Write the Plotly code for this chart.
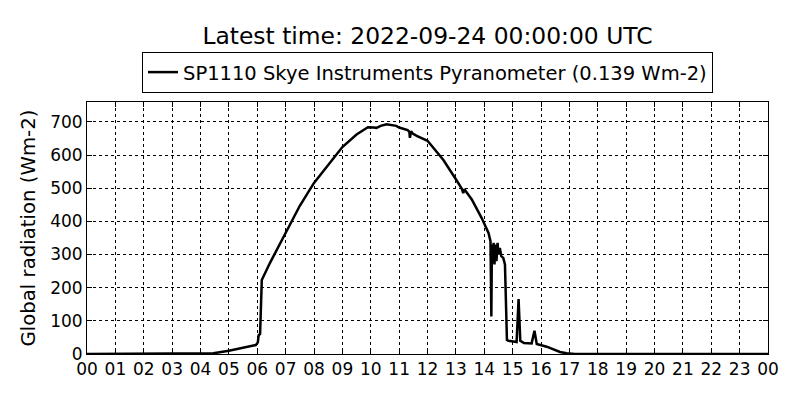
import plotly.graph_objects as go

hours = [0, 4.0, 4.45, 5.0, 5.5, 5.95, 6.02, 6.05, 6.1, 6.16, 6.45, 7.0, 7.5, 8.0,
         8.56, 9.0, 9.5, 9.9, 10.1, 10.2, 10.35, 10.56, 10.9, 11.0, 11.3, 11.36,
         11.38, 11.42, 11.48, 11.62, 12.0, 12.2, 12.56, 13.0, 13.2, 13.26, 13.3,
         13.56, 13.91, 14.15, 14.22, 14.25, 14.27, 14.3, 14.33, 14.36, 14.4, 14.43,
         14.47, 14.5, 14.55, 14.6, 14.67, 14.73, 14.8, 14.85, 15.0, 15.14, 15.21,
         15.27, 15.4, 15.67, 15.77, 15.85, 16.2, 16.67, 16.9, 17.2, 24]
radiation = [0, 0, 2, 10, 18, 27, 35, 57, 60, 223, 275, 365, 447, 516,
             578, 624, 662, 684, 683, 682, 688, 693, 688, 683, 675, 670,
             652, 672, 665, 658, 643, 622, 585, 527, 500, 485, 497,
             466, 410, 365, 340, 113, 330, 275, 335, 270, 330, 280,
             335, 300, 320, 295, 290, 270, 42, 40, 38, 36, 166,
             40, 33, 32, 70, 30, 22, 6, 2, 0, 0]

tick_vals = list(range(0, 25))
tick_text = ["%02d" % (h % 24) for h in tick_vals]
y_ticks = [0, 100, 200, 300, 400, 500, 600, 700]

fig = go.Figure()
fig.add_trace(go.Scatter(
    x=hours, y=radiation, mode="lines",
    line=dict(color="black", width=2.5),
    name="SP1110 Skye Instruments Pyranometer (0.139 Wm-2)",
))

axis_common = dict(
    showline=True, linecolor="black", linewidth=1, mirror="allticks",
    ticks="inside", ticklen=5, tickcolor="black",
    showgrid=True, gridcolor="black", griddash="dot", gridwidth=1,
    zeroline=False, tickfont=dict(size=17, color="black"), automargin=False,
)

fig.update_layout(
    width=800, height=400,
    margin=dict(l=87, r=32, t=102, b=46),
    paper_bgcolor="white", plot_bgcolor="white",
    font=dict(family="DejaVu Sans", color="black", size=17),
    title=dict(text="Latest time: 2022-09-24 00:00:00 UTC", x=0.5, xref="paper",
               xanchor="center", y=0.91, yanchor="middle", font=dict(size=23.4)),
    showlegend=True,
    legend=dict(orientation="h", x=0.5, xanchor="center", y=1.036, yanchor="bottom",
                bordercolor="black", borderwidth=1, bgcolor="white",
                font=dict(size=19.5)),
    xaxis=dict(range=[0, 24], tickvals=tick_vals, ticktext=tick_text, **axis_common),
    yaxis=dict(range=[0, 760], tickvals=y_ticks, **axis_common),
    annotations=[dict(text="Global radiation (Wm-2)", textangle=-90, xref="paper",
                      yref="paper", x=-0.0852, y=0.502, xanchor="center",
                      yanchor="middle", showarrow=False, font=dict(size=19.7))],
)

fig.write_html("out.html", config={"displayModeBar": False},
               post_script="document.body.style.margin='0';")
